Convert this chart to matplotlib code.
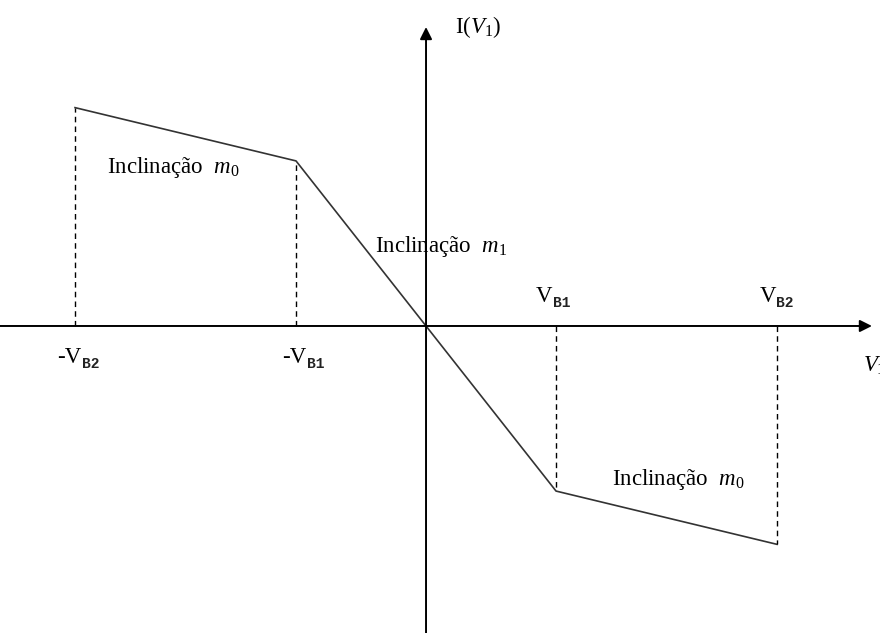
import matplotlib.pyplot as plt
from matplotlib.transforms import offset_copy

# piecewise-linear characteristic, breakpoints in units of V_B1
v_break = [-2.7, -1.0, 0.0, 1.0, 2.7]
i_break = [1.68, 1.27, 0.0, -1.27, -1.68]
break_main = ['-V', '-V', 'V', 'V']
break_sub = ['B2', 'B1', 'B1', 'B2']

plt.rcParams['font.family'] = ['Liberation Serif', 'DejaVu Serif']
plt.rcParams['mathtext.fontset'] = 'custom'
plt.rcParams['mathtext.rm'] = 'Liberation Serif'
plt.rcParams['mathtext.it'] = 'Liberation Serif:italic'

fig = plt.figure(figsize=(8.8, 6.33), dpi=100)
ax = fig.add_axes([0, 0, 1, 1])
ax.set_xlim(-3.277, 3.492)
ax.set_ylim(-2.362, 2.508)
ax.axis('off')

# axes with arrow heads
ax.annotate('', xy=(3.43, 0), xytext=(-3.3, 0),
            arrowprops=dict(arrowstyle='-|>', color='black', lw=1.4,
                            mutation_scale=18, shrinkA=0, shrinkB=0))
ax.annotate('', xy=(0, 2.3), xytext=(0, -2.4),
            arrowprops=dict(arrowstyle='-|>', color='black', lw=1.4,
                            mutation_scale=18, shrinkA=0, shrinkB=0))

# characteristic curve
ax.plot(v_break, i_break, color='#333333', lw=1.2)

# dashed drop lines at the breakpoints
for v, i in zip(v_break, i_break):
    if v != 0:
        ax.plot([v, v], [0, i], color='black', lw=1.0, ls=(0, (4, 3)))

fs = 16.5


def sub_label(x, y, main, sub):
    ax.text(x, y, main, ha='right', va='baseline', fontsize=fs)
    tr = offset_copy(ax.transData, fig=fig, x=0.5, y=-3.5, units='points')
    ax.text(x, y, sub, ha='left', va='baseline', fontsize=10.5,
            family='Liberation Mono', weight='bold', color='#222222',
            transform=tr)


# breakpoint labels: below the axis for negative, above for positive
label_x = [-2.654, -0.923, 0.97, 2.69]
for v, lx, main, sub in zip(v_break[:2] + v_break[3:], label_x, break_main, break_sub):
    ly = -0.285 if v < 0 else 0.185
    sub_label(lx, ly, main, sub)

ax.text(0.223, 2.254, r'I($V_1$)', ha='left', va='baseline', fontsize=fs)
ax.text(3.362, -0.354, r'$V_1$', ha='left', va='baseline', fontsize=fs)

ax.text(-2.454, 1.177, r'Inclinação  $m_0$', ha='left', va='baseline', fontsize=fs)
ax.text(-0.392, 0.569, r'Inclinação  $m_1$', ha='left', va='baseline', fontsize=fs)
ax.text(1.431, -1.223, r'Inclinação  $m_0$', ha='left', va='baseline', fontsize=fs)

fig.savefig('out.png', dpi=100)
